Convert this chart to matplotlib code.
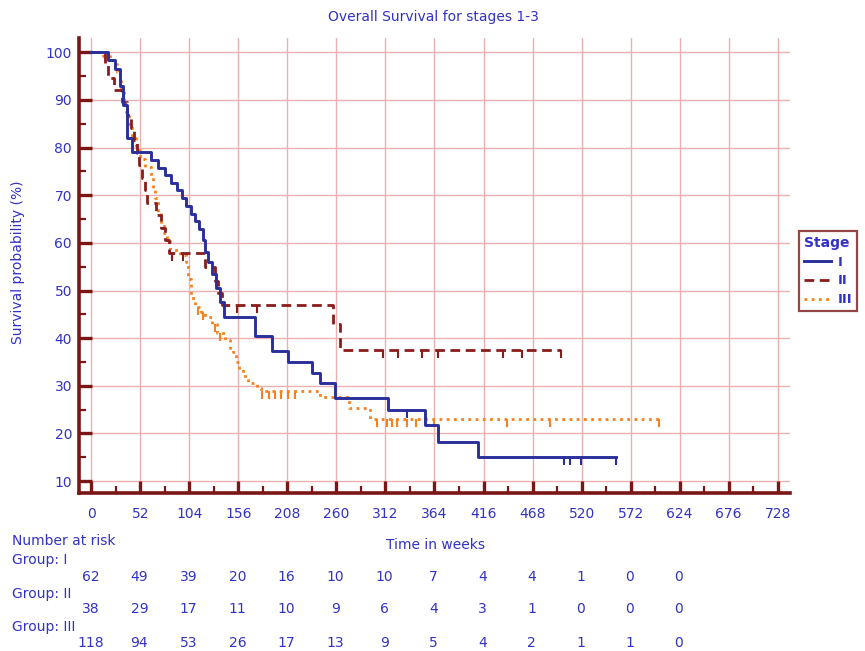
import numpy as np
import matplotlib
matplotlib.use("Agg")
import matplotlib.pyplot as plt
from matplotlib.ticker import FixedLocator
from matplotlib.lines import Line2D

plt.rcParams['font.family'] = ['DejaVu Sans']

# ---------------- data ----------------
groups = ["I", "II", "III"]

t_I = [0, 18, 25, 30, 34, 38, 43, 63, 71, 78, 85, 91, 96, 101, 106, 110, 114, 118, 121,
       124, 128, 132, 136, 141, 174, 192, 209, 234, 243, 259, 315, 354, 368, 410]
s_I = [100, 98.3, 96.5, 93, 89, 82, 79, 77.4, 75.8, 74.2, 72.6, 71, 69.4, 67.8, 66.1, 64.5,
       62.9, 60.6, 58, 56, 53.5, 50.5, 47.5, 44.4, 40.5, 37.3, 35, 32.7, 30.5, 27.5, 25,
       21.8, 18.2, 15]
end_I = 556
cens_I = [335, 501, 508, 519, 556]

t_II = [0, 15, 18, 24, 33, 38, 42, 45, 48, 51, 54, 57, 59, 69, 74, 78, 82, 121, 131, 134,
        139, 256, 264]
s_II = [100, 97.4, 94.7, 92.1, 89.5, 86.8, 84.2, 81.6, 78.9, 76.3, 73.7, 71, 68.4, 65.8,
        63.2, 60.5, 57.9, 55, 52, 49.5, 47, 43, 37.5]
end_II = 498
cens_II = [86, 97, 155, 176, 309, 325, 351, 368, 437, 457, 498]

t_III = [0, 12, 20, 24, 27, 30, 32, 35, 37, 40, 43, 47, 52, 57, 63, 66, 68, 71, 74, 77, 80,
         84, 94, 100, 103, 106, 110, 116, 121, 128, 133, 142, 147, 150, 153, 157, 161, 166,
         176, 180, 243, 273, 296]
s_III = [100, 99.2, 98.3, 97.5, 95.8, 94, 92, 90, 87.5, 85, 82, 79.5, 77.5, 76, 74, 71.5,
         69.5, 66.5, 64, 62, 60.5, 58.5, 57.5, 56, 52.5, 48.5, 46.5, 45.5, 44.4, 43, 41, 39.6,
         38, 37, 35, 33.5, 32, 30.5, 29.5, 29, 27.7, 25.4, 23]
end_III = 602
cens_III = [113, 118, 131, 136, 181, 188, 195, 201, 209, 216, 303, 314, 319, 324, 335, 344,
            363, 441, 487, 602]

x_ticks = [0, 52, 104, 156, 208, 260, 312, 364, 416, 468, 520, 572, 624, 676, 728]
y_ticks = [10, 20, 30, 40, 50, 60, 70, 80, 90, 100]

risk_times = [0, 52, 104, 156, 208, 260, 312, 364, 416, 468, 520, 572, 624]
risk_I = [62, 49, 39, 20, 16, 10, 10, 7, 4, 4, 1, 0, 0]
risk_II = [38, 29, 17, 11, 10, 9, 6, 4, 3, 1, 0, 0, 0]
risk_III = [118, 94, 53, 26, 17, 13, 9, 5, 4, 2, 1, 1, 0]

# ---------------- style ----------------
W, H = 865, 651
fig = plt.figure(figsize=(W / 100, H / 100), dpi=100)
ax = fig.add_axes([79 / W, 1 - 493 / H, (790 - 79) / W, (493 - 38) / H])

txt = '#3232c4'
spine_c = '#7a1616'
grid_c = '#ebb0b0'
FS = 10

col_I, col_II, col_III = '#2a2f9c', '#8a1c1c', '#f7801e'
ls_II = (0, (3.5, 2))
ls_III = (0, (1, 1.6))

ax.set_xlim(-13, 741)
ax.set_ylim(7.5, 103)

for x in x_ticks:
    ax.axvline(x, color=grid_c, lw=1.0, zorder=0)
for y in y_ticks:
    ax.axhline(y, color=grid_c, lw=1.0, zorder=0)


def draw(t, s, end, cens, color, ls, lw):
    tt = list(t) + [end]
    ss = list(s) + [s[-1]]
    ax.step(tt, ss, where='post', color=color, ls=ls, lw=lw, zorder=3)
    idx = np.searchsorted(np.array(t), np.array(cens), side='right') - 1
    cs = np.array(s)[idx]
    ax.plot(cens, cs, ls='none', marker=3, ms=6, mew=1.5, color=color, zorder=3)


draw(t_III, s_III, end_III, cens_III, col_III, ls_III, 2.0)
draw(t_II, s_II, end_II, cens_II, col_II, ls_II, 2.0)
draw(t_I, s_I, end_I, cens_I, col_I, '-', 2.1)

for side in ['top', 'right']:
    ax.spines[side].set_visible(False)
for side in ['left', 'bottom']:
    ax.spines[side].set_color(spine_c)
    ax.spines[side].set_linewidth(2.6)

ax.xaxis.set_major_locator(FixedLocator(x_ticks))
ax.yaxis.set_major_locator(FixedLocator(y_ticks))
ax.xaxis.set_minor_locator(FixedLocator([x + 26 for x in x_ticks[:-1]]))
ax.yaxis.set_minor_locator(FixedLocator([y + 5 for y in y_ticks[:-1]]))
ax.tick_params(which='major', direction='in', length=9, width=2.4, color=spine_c,
               labelcolor=txt, labelsize=FS)
ax.tick_params(which='minor', direction='in', length=5, width=1.6, color=spine_c)
ax.tick_params(axis='x', which='major', pad=10)
ax.tick_params(axis='y', which='major', pad=5)

# titles
fig.text(433 / W, 1 - 17 / H, "Overall Survival for stages 1-3", ha='center', va='center',
         color=txt, fontsize=FS)
fig.text(18 / W, 1 - 262 / H, "Survival probability (%)", rotation=90, ha='center',
         va='center', color=txt, fontsize=FS)
fig.text(435 / W, 1 - 545 / H, "Time in weeks", ha='center', va='center', color=txt,
         fontsize=FS)

# legend
handles = [Line2D([], [], color=col_I, ls='-', lw=2.1),
           Line2D([], [], color=col_II, ls=ls_II, lw=2.0),
           Line2D([], [], color=col_III, ls=ls_III, lw=2.0)]
leg = fig.legend(handles, groups, title="Stage", loc='upper left',
                 bbox_to_anchor=(799 / W, 1 - 231 / H), fontsize=9.5, title_fontsize=10,
                 handlelength=2.1, handletextpad=0.5, labelspacing=0.45, borderpad=0.35,
                 borderaxespad=0, fancybox=False, frameon=True, alignment='left')
leg.get_frame().set_edgecolor(spine_c)
leg.get_frame().set_linewidth(1.6)
for t in leg.get_texts():
    t.set_color(txt)
    t.set_fontweight('bold')
leg.get_title().set_color(txt)
leg.get_title().set_fontweight('bold')

# number at risk table
trans = matplotlib.transforms.blended_transform_factory(ax.transData, fig.transFigure)
fig.text(12 / W, 1 - 541 / H, "Number at risk", ha='left', va='center', color=txt, fontsize=FS)
rows = [("Group: I", risk_I, 560, 577), ("Group: II", risk_II, 594, 609),
        ("Group: III", risk_III, 627, 643)]
for name, vals, ylab, yval in rows:
    fig.text(12 / W, 1 - ylab / H, name, ha='left', va='center', color=txt, fontsize=FS)
    for x, v in zip(risk_times, vals):
        ax.text(x - 1, 1 - yval / H, str(v), transform=trans, ha='center', va='center',
                color=txt, fontsize=FS)

fig.savefig("out.png", dpi=100, facecolor='white')
